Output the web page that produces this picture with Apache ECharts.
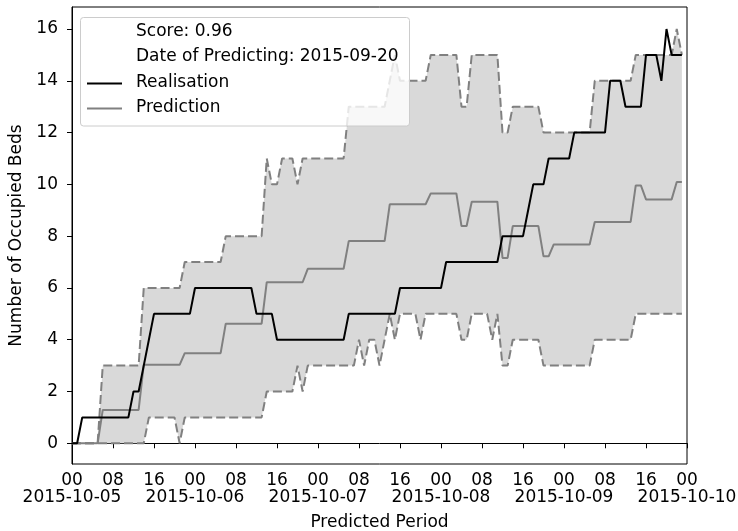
<!DOCTYPE html>
<html><head><meta charset="utf-8">
<script src="https://cdn.jsdelivr.net/npm/echarts@6/dist/echarts.min.js"></script>
<style>html,body{margin:0;padding:0;background:#fff}#c{width:738px;height:531px}</style>
</head><body><div id="c"></div>
<script>
// hourly values from 2015-10-05 00:00 (hour index 0..119)
const realisation = [
  0,0,1,1,1,1,1,1,1,1,
  1,1,2,2,3,4,5,5,5,5,
  5,5,5,5,6,6,6,6,6,6,
  6,6,6,6,6,6,5,5,5,5,
  4,4,4,4,4,4,4,4,4,4,
  4,4,4,4,5,5,5,5,5,5,
  5,5,5,5,6,6,6,6,6,6,
  6,6,6,7,7,7,7,7,7,7,
  7,7,7,7,8,8,8,8,8,9,
  10,10,10,11,11,11,11,11,12,12,
  12,12,12,12,12,14,14,14,13,13,
  13,13,15,15,15,14,16,15,15,15
];
const prediction = [
  0,0,0,0,0,0,1.29,1.29,1.29,1.29,
  1.29,1.29,1.29,1.29,3.03,3.03,3.03,3.03,3.03,3.03,
  3.03,3.03,3.48,3.48,3.48,3.48,3.48,3.48,3.48,3.48,
  4.62,4.62,4.62,4.62,4.62,4.62,4.62,4.62,6.22,6.22,
  6.22,6.22,6.22,6.22,6.22,6.22,6.74,6.74,6.74,6.74,
  6.74,6.74,6.74,6.74,7.81,7.81,7.81,7.81,7.81,7.81,
  7.81,7.81,9.23,9.23,9.23,9.23,9.23,9.23,9.23,9.23,
  9.65,9.65,9.65,9.65,9.65,9.65,8.39,8.39,9.33,9.33,
  9.33,9.33,9.33,9.33,7.16,7.16,8.39,8.39,8.39,8.39,
  8.39,8.39,7.22,7.22,7.68,7.68,7.68,7.68,7.68,7.68,
  7.68,7.68,8.55,8.55,8.55,8.55,8.55,8.55,8.55,8.55,
  9.96,9.96,9.42,9.42,9.42,9.42,9.42,9.42,10.09,10.09
];
const upperBound = [
  0,0,0,0,0,0,3,3,3,3,
  3,3,3,3,6,6,6,6,6,6,
  6,6,7,7,7,7,7,7,7,7,
  8,8,8,8,8,8,8,8,11,10,
  10,11,11,11,10,11,11,11,11,11,
  11,11,11,11,13,13,13,13,13,13,
  13,13,14,15,14,14,14,14,14,14,
  15,15,15,15,15,15,13,13,15,15,
  15,15,15,15,12,12,13,13,13,13,
  13,13,12,12,12,12,12,12,12,12,
  12,12,14,14,14,14,14,14,14,14,
  15,15,15,15,15,15,15,15,16,15
];
const lowerBound = [
  0,0,0,0,0,0,0,0,0,0,
  0,0,0,0,0,1,1,1,1,1,
  1,0,1,1,1,1,1,1,1,1,
  1,1,1,1,1,1,1,1,2,2,
  2,2,2,2,3,2,3,3,3,3,
  3,3,3,3,3,3,4,3,4,4,
  3,4,5,4,5,5,5,5,4,5,
  5,5,5,5,5,5,4,4,5,5,
  5,5,4,5,3,3,4,4,4,4,
  4,4,3,3,3,3,3,3,3,3,
  3,3,4,4,4,4,4,4,4,4,
  5,5,5,5,5,5,5,5,5,5
];
const hourLabels = ['00','08','16','00','08','16','00','08','16','00','08','16','00','08','16','00'];
const dateLabels = ['2015-10-05','2015-10-06','2015-10-07','2015-10-08','2015-10-09','2015-10-10'];
const yTicks = [0,2,4,6,8,10,12,14,16];
const legendTexts = ['Score: 0.96','Date of Predicting: 2015-09-20','Realisation','Prediction'];

const pts = arr => arr.map((v,i)=>[i,v]);
const FONT = 'DejaVu Sans';
const FS = 17;
const chart = echarts.init(document.getElementById('c'));
chart.setOption({
  animation:false,
  backgroundColor:'#fff',
  grid:{left:72,right:51,top:7,bottom:67,outerBoundsMode:'none',containLabel:false,
    show:true,borderColor:'#000',borderWidth:1,backgroundColor:'transparent'},
  xAxis:[
    {type:'value',min:0,max:120,interval:8,position:'bottom',
      name:'Predicted Period',nameLocation:'middle',nameGap:50,
      nameTextStyle:{fontFamily:FONT,fontSize:FS,color:'#000'},
      axisLine:{lineStyle:{color:'#000',width:1}},
      axisTick:{show:true,inside:false,length:5,lineStyle:{color:'#000'}},
      axisLabel:{fontFamily:FONT,fontSize:FS,color:'#000',margin:8,lineHeight:17,
        showMinLabel:true,showMaxLabel:true,
        formatter:v=>hourLabels[Math.round(v/8)]},
      splitLine:{show:false}},
    {type:'value',min:0,max:120,interval:24,position:'bottom',
      axisLine:{show:false},axisTick:{show:false},
      axisLabel:{fontFamily:FONT,fontSize:FS,color:'#000',margin:25,lineHeight:17,
        showMinLabel:true,showMaxLabel:true,
        formatter:v=>dateLabels[Math.round(v/24)]},
      splitLine:{show:false}}
  ],
  yAxis:{type:'value',min:-0.8,max:16.85,
    name:'Number of Occupied Beds',nameLocation:'middle',nameGap:39,
    nameTextStyle:{fontFamily:FONT,fontSize:FS,color:'#000'},
    axisLine:{show:true,lineStyle:{color:'#000',width:1}},
    axisTick:{show:true,inside:false,length:5,lineStyle:{color:'#000'},customValues:yTicks},
    axisLabel:{fontFamily:FONT,fontSize:FS,color:'#000',margin:14,customValues:yTicks},
    splitLine:{show:false}},
  series:[
    {type:'custom',name:'band',silent:true,z:1,xAxisIndex:0,
      data:upperBound.map((u,i)=>[i,lowerBound[i],u]),
      encode:{x:0,y:[1,2]},
      renderItem:(params,api)=>{
        if(params.dataIndex!==0) return null;
        const p=[];
        for(let i=0;i<upperBound.length;i++) p.push(api.coord([i,upperBound[i]]));
        for(let i=lowerBound.length-1;i>=0;i--) p.push(api.coord([i,lowerBound[i]]));
        return {type:'polygon',shape:{points:p},style:{fill:'#d9d9d9',stroke:null}};
      }},
    {type:'line',name:'upper',xAxisIndex:0,data:pts(upperBound),showSymbol:false,symbol:'none',
      lineStyle:{color:'#808080',width:2,type:[9,4]},z:3},
    {type:'line',name:'lower',xAxisIndex:0,data:pts(lowerBound),showSymbol:false,symbol:'none',
      lineStyle:{color:'#808080',width:2,type:[9,4]},z:3},
    {type:'line',name:'Prediction',xAxisIndex:0,data:pts(prediction),showSymbol:false,symbol:'none',
      lineStyle:{color:'#808080',width:2},z:4},
    {type:'line',name:'Realisation',xAxisIndex:0,data:pts(realisation),showSymbol:false,symbol:'none',
      lineStyle:{color:'#000',width:2},z:5}
  ],
  graphic:[
    {type:'rect',z:100,shape:{x:80.5,y:17.5,width:329,height:108.5,r:3},
      style:{fill:'rgba(255,255,255,0.8)',stroke:'#cccccc',lineWidth:1}},
    {type:'text',z:101,x:136,y:32,style:{text:legendTexts[0],font:FS+'px "'+FONT+'"',fill:'#000',verticalAlign:'middle'}},
    {type:'text',z:101,x:136,y:57,style:{text:legendTexts[1],font:FS+'px "'+FONT+'"',fill:'#000',verticalAlign:'middle'}},
    {type:'text',z:101,x:136,y:83,style:{text:legendTexts[2],font:FS+'px "'+FONT+'"',fill:'#000',verticalAlign:'middle'}},
    {type:'text',z:101,x:136,y:108,style:{text:legendTexts[3],font:FS+'px "'+FONT+'"',fill:'#000',verticalAlign:'middle'}},
    {type:'line',z:101,shape:{x1:87,y1:83.5,x2:122,y2:83.5},style:{stroke:'#000',lineWidth:2}},
    {type:'line',z:101,shape:{x1:87,y1:108.5,x2:122,y2:108.5},style:{stroke:'#808080',lineWidth:2}}
  ]
});
</script></body></html>
